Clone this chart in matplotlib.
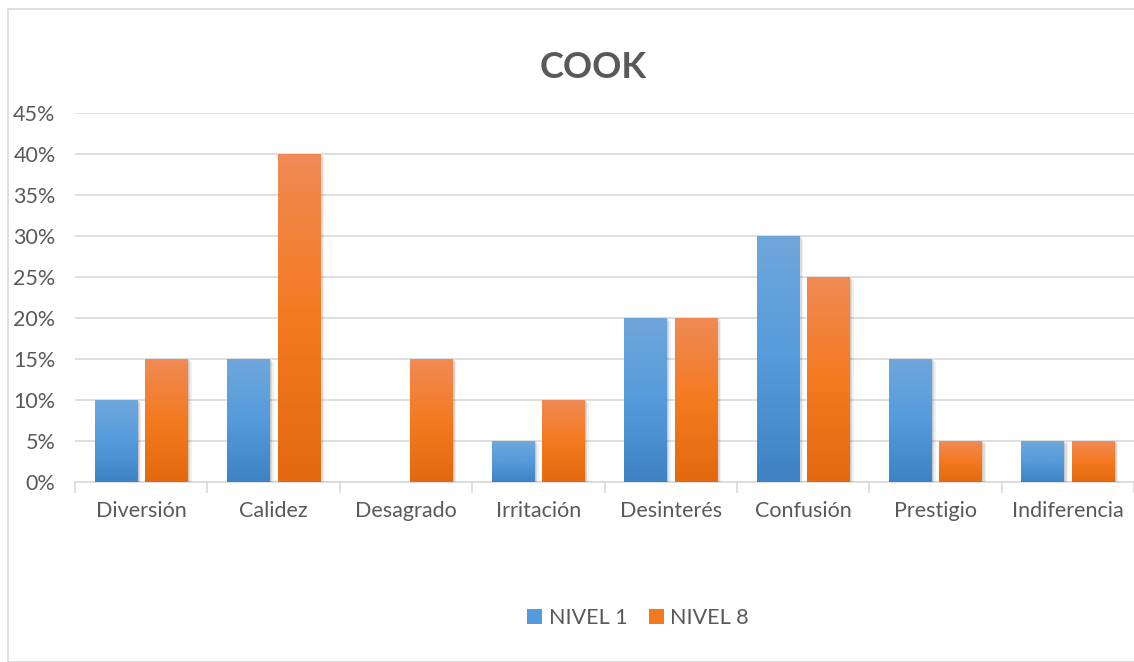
import matplotlib.pyplot as plt
import matplotlib.patheffects as pe
from matplotlib.colors import LinearSegmentedColormap
from matplotlib.patches import Rectangle, Patch
import numpy as np

categories = ["Diversión", "Calidez", "Desagrado", "Irritación",
              "Desinterés", "Confusión", "Prestigio", "Indiferencia"]
nivel_1 = [0.10, 0.15, 0.00, 0.05, 0.20, 0.30, 0.15, 0.05]
nivel_8 = [0.15, 0.40, 0.15, 0.10, 0.20, 0.25, 0.05, 0.05]
series_names = ["NIVEL 1", "NIVEL 8"]

blue_cmap = LinearSegmentedColormap.from_list("b", ["#3e82c4", "#559bdb", "#6fa7db"])
orange_cmap = LinearSegmentedColormap.from_list("o", ["#e2690f", "#f47a20", "#f08a55"])
text_color = "#595959"
grid_color = "#d9d9d9"

plt.rcParams["font.family"] = ["Lato", "DejaVu Sans"]

fig = plt.figure(figsize=(11.34, 6.62), dpi=100)
fig.patches.append(Rectangle((8 / 1134, 0), 1.0, 1 - 9 / 662, transform=fig.transFigure,
                             fill=False, edgecolor=grid_color, linewidth=1.2))
ax = fig.add_axes([75 / 1134, 180 / 662, 1 - 75 / 1134, 369 / 662])

x = np.arange(len(categories))
width = 0.32
offset = 0.19
grad = np.linspace(0, 1, 256).reshape(-1, 1)

shadow = [pe.SimplePatchShadow(offset=(3, -2), alpha=0.07),
          pe.SimplePatchShadow(offset=(2, -1), alpha=0.10),
          pe.SimplePatchShadow(offset=(1, -1), alpha=0.12),
          pe.Normal()]

for vals, shift, cmap in [(nivel_1, -offset, blue_cmap),
                          (nivel_8, offset, orange_cmap)]:
    bars = ax.bar(x + shift, vals, width, color=cmap(0.5), zorder=3,
                  path_effects=shadow)
    for b in bars:
        if b.get_height() <= 0:
            continue
        x0, y0 = b.get_x(), b.get_y()
        im = ax.imshow(grad, extent=[x0, x0 + b.get_width(), y0, y0 + b.get_height()],
                       origin="lower", aspect="auto", cmap=cmap, zorder=4)
        im.set_clip_path(b)

ax.set_xlim(-0.5, len(categories) - 0.5)
ax.set_ylim(0, 0.45)
ax.set_yticks(np.arange(0, 0.46, 0.05))
ax.set_yticklabels([f"{int(round(v * 100))}%" for v in np.arange(0, 0.46, 0.05)])
ax.yaxis.grid(True, color=grid_color, linewidth=1.2, zorder=0)
ax.set_axisbelow(True)

ax.set_xticks(x)
ax.set_xticklabels(categories)
ax.set_xticks(np.arange(-0.5, len(categories), 1), minor=True)
ax.tick_params(axis="x", which="major", length=0, pad=14, labelsize=15.5, labelcolor=text_color)
ax.tick_params(axis="x", which="minor", length=8, color=grid_color, width=1.2)
ax.tick_params(axis="y", length=0, pad=14, labelsize=15.5, labelcolor=text_color)

for s in ["top", "right", "left"]:
    ax.spines[s].set_visible(False)
ax.spines["bottom"].set_color(grid_color)
ax.spines["bottom"].set_linewidth(1.2)

fig.text(593 / 1134, 1 - 67 / 662, "COOK", ha="center", va="center",
         fontsize=26, fontweight="bold", color=text_color)

handles = [Patch(facecolor="#559bdb"), Patch(facecolor="#f47a20")]
leg = fig.legend(handles, series_names, loc="center",
                 bbox_to_anchor=(638 / 1134, 1 - 618 / 662), ncol=2,
                 frameon=False, fontsize=15.5, handlelength=0.7, handleheight=0.7,
                 columnspacing=1.0, handletextpad=0.3)
for t in leg.get_texts():
    t.set_color(text_color)

fig.savefig("out.png", dpi=100)
